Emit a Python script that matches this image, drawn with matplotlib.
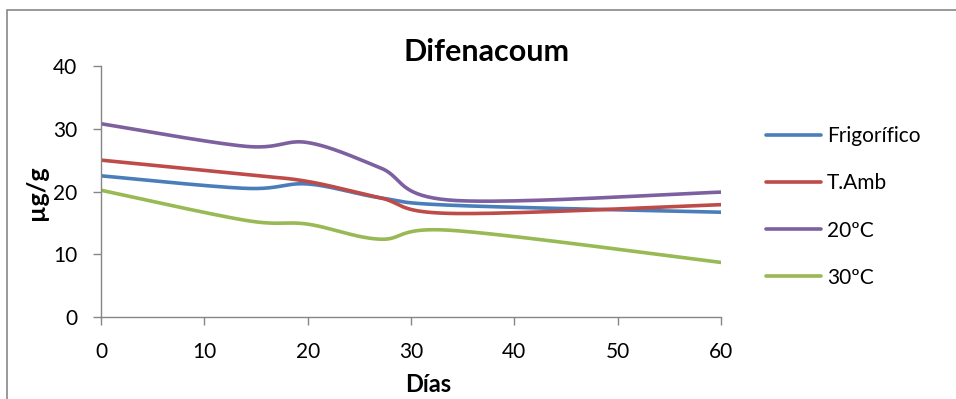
import numpy as np
import matplotlib.pyplot as plt
from matplotlib.patches import Rectangle

plt.rcParams['font.family'] = ['Lato', 'DejaVu Sans']

dias = [0, 14, 20, 27, 34, 60]
frigorifico = [22.5, 20.5, 21.2, 19.0, 17.8, 16.7]
t_amb = [25.0, 22.7, 21.6, 19.0, 16.5, 17.9]
t20 = [30.8, 27.2, 27.8, 23.8, 18.6, 19.9]
t30 = [20.2, 15.4, 14.8, 12.4, 13.8, 8.7]

series = [
    ("Frigorífico", frigorifico, "#4a7ebb"),
    ("T.Amb", t_amb, "#be4b48"),
    ("20ºC", t20, "#7d60a0"),
    ("30ºC", t30, "#98b954"),
]


def smooth(x, y, n=40):
    # bezier segments with catmull-rom style control points
    p = np.column_stack([x, y]).astype(float)
    pts = np.vstack([p[0], p, p[-1]])
    out = []
    t = np.linspace(0, 1, n)[:, None]
    for i in range(1, len(pts) - 2):
        p0, p1, p2, p3 = pts[i - 1], pts[i], pts[i + 1], pts[i + 2]
        c1 = p1 + (p2 - p0) / 6
        c2 = p2 - (p3 - p1) / 6
        seg = ((1 - t) ** 3) * p1 + 3 * ((1 - t) ** 2) * t * c1 \
            + 3 * (1 - t) * t ** 2 * c2 + t ** 3 * p2
        out.append(seg if i == 1 else seg[1:])
    s = np.vstack(out)
    return s[:, 0], s[:, 1]


fig = plt.figure(figsize=(9.56, 3.99), dpi=100)
ax = fig.add_axes([101 / 956, 1 - 317 / 399, 620 / 956, 251 / 399])

for name, vals, col in series:
    sx, sy = smooth(dias, vals)
    ax.plot(sx, sy, color=col, lw=2.6, label=name, solid_capstyle='round')

ax.set_xlim(0, 60)
ax.set_ylim(0, 40)
ax.set_xticks(range(0, 61, 10))
ax.set_yticks(range(0, 41, 10))
for s in ["top", "right"]:
    ax.spines[s].set_visible(False)
for s in ["left", "bottom"]:
    ax.spines[s].set_color("#868686")
    ax.spines[s].set_linewidth(1.0)
ax.tick_params(axis='x', direction='out', length=6, width=1, color="#868686",
               labelsize=15, pad=12)
ax.tick_params(axis='y', direction='out', length=6, width=1, color="#868686",
               labelsize=15, pad=11)

fig.text(487 / 956, 1 - 52 / 399, "Difenacoum", ha='center', va='center',
         fontsize=22, fontweight='bold')
fig.text(428 / 956, 1 - 384 / 399, "Días", ha='center', va='center',
         fontsize=17, fontweight='bold')
fig.text(36 / 956, 1 - 193 / 399, "µg/g", ha='center', va='center',
         fontsize=18, fontweight='bold', rotation=90)

fig.legend(loc='upper left', bbox_to_anchor=(758 / 956, 1 - 118 / 399),
           frameon=False, fontsize=15, handlelength=2.6, handletextpad=0.3,
           labelspacing=1.3, borderaxespad=0)

fig.patches.append(Rectangle((7 / 956, -0.1), 1.2, 1.1 - 10 / 399,
                             transform=fig.transFigure, fill=False,
                             edgecolor="#888888", lw=1.2))

fig.savefig("out.png", dpi=100)
